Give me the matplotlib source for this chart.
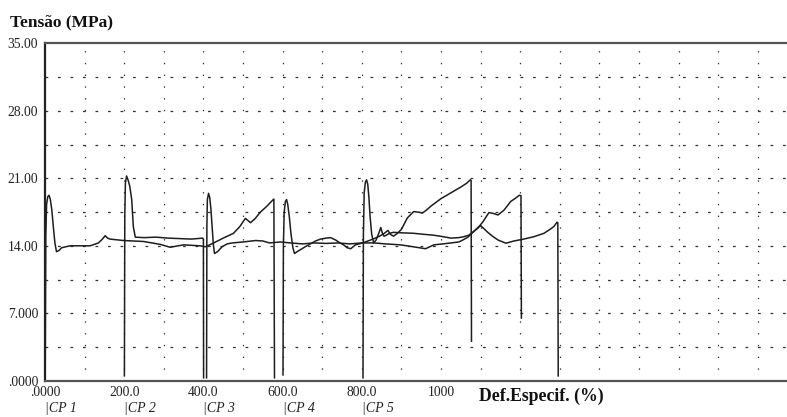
import matplotlib
matplotlib.use("Agg")
import matplotlib.pyplot as plt
from matplotlib.transforms import blended_transform_factory

# stress-strain curves of the five specimens, as drawn on the shared axis
cp1_x = [0.5, 2, 4, 7, 10, 13, 17, 21, 25, 29, 35, 42, 63, 90, 114, 135, 145, 152, 158, 164,
         198, 249, 291, 316, 350, 392, 405, 426, 450, 476, 492, 506, 519, 530, 544, 560, 574,
         578, 579.5]
cp1_y = [0.3, 15, 18.3, 19.1, 19.25, 18.9, 17.8, 16.0, 14.3, 13.4, 13.5, 13.8, 14.0, 14.0, 14.0,
         14.3, 14.7, 15.05, 14.8, 14.7, 14.55, 14.45, 14.15, 13.85, 14.1, 14.0, 13.9, 14.3, 14.8,
         15.3, 16.0, 16.85, 16.4, 16.8, 17.5, 18.1, 18.7, 18.85, 0.3]

cp2_x = [200.5, 201.5, 203, 206, 210, 214, 219, 223, 228, 250, 280, 310, 340, 370, 398, 400,
         400.5]
cp2_y = [0.5, 17, 20.5, 21.25, 20.8, 20.2, 18.8, 16.0, 14.9, 14.85, 14.9, 14.8, 14.75, 14.7,
         14.8, 14.7, 0.3]

cp3_x = [408, 408.8, 410, 413, 416, 419, 422, 425, 428, 436, 447, 460, 473, 500, 532, 550, 567,
         594, 620, 650, 680, 710, 740, 770, 800, 830, 860, 898, 930, 961, 982, 1005, 1025, 1045,
         1055, 1068, 1078, 1088, 1096, 1106, 1121, 1133, 1144, 1159, 1176, 1190, 1198, 1202, 1203]
cp3_y = [0.3, 16, 18.8, 19.45, 19.0, 17.8, 16.0, 14.2, 13.2, 13.4, 13.9, 14.2, 14.3, 14.4, 14.55,
         14.5, 14.3, 14.4, 14.3, 14.2, 14.3, 14.25, 14.3, 14.2, 14.3, 14.3, 14.2, 14.1, 13.9,
         13.7, 14.1, 14.2, 14.3, 14.4, 14.6, 14.9, 15.3, 15.7, 16.0, 16.5, 17.45, 17.35, 17.2,
         17.7, 18.6, 19.0, 19.25, 19.2, 6.5]

cp4_x = [601, 602, 604, 607, 610, 613, 617, 621, 626, 630, 637, 645, 657, 670, 683, 696, 710,
         721, 734, 745, 754, 763, 772, 778, 784, 793, 802, 812, 822, 834, 845, 857, 866, 872,
         880, 890, 900, 915, 931, 942, 953, 963, 974, 1000, 1025, 1050, 1065, 1074, 1076, 1077]
cp4_y = [0.6, 14, 17.5, 18.6, 18.8, 18.3, 17.0, 15.3, 13.8, 13.2, 13.4, 13.6, 13.9, 14.2, 14.5,
         14.7, 14.8, 14.85, 14.6, 14.3, 14.1, 13.8, 13.7, 13.9, 14.1, 14.2, 14.3, 14.45, 14.6,
         14.8, 15.0, 15.3, 15.6, 15.2, 15.0, 15.3, 15.7, 16.9, 17.55, 17.5, 17.4, 17.7, 18.1,
         18.9, 19.5, 20.1, 20.5, 20.85, 20.8, 4.1]

cp5_x = [803, 804, 806, 809, 812, 815, 818, 821, 825, 830, 836, 842, 848, 852, 856, 862, 870,
         880, 900, 931, 955, 982, 1005, 1025, 1045, 1058, 1070, 1083, 1092, 1100, 1108, 1118,
         1130, 1144, 1164, 1184, 1209, 1235, 1260, 1275, 1285, 1293, 1295, 1296]
cp5_y = [0.3, 15, 19.5, 20.6, 20.85, 20.4, 19.0, 17.0, 15.2, 14.3, 14.6, 15.2, 15.9, 15.3, 15.0,
         15.1, 15.3, 15.4, 15.35, 15.3, 15.2, 15.1, 14.95, 14.8, 14.85, 14.95, 15.1, 15.5, 15.8,
         16.1, 15.8, 15.4, 15.0, 14.6, 14.27, 14.5, 14.7, 14.95, 15.3, 15.7, 16.0, 16.45, 16.4,
         0.5]

y_ticks = [0, 7, 14, 21, 28, 35]
y_labels = [".0000", "7.000", "14.00", "21.00", "28.00", "35.00"]
x_ticks = [0, 200, 400, 600, 800, 1000]
x_labels = [".0000", "200.0", "400.0", "600.0", "800.0", "1000"]
cp_names = ["CP 1", "CP 2", "CP 3", "CP 4", "CP 5"]
cp_starts = [0, 200, 400, 600, 800]

plt.rcParams['font.family'] = ['Liberation Serif', 'DejaVu Serif']

fig = plt.figure(figsize=(7.87, 4.17), dpi=100)
ax = fig.add_axes([45 / 787, 1 - 380.7 / 417, 742 / 787, 337.2 / 417])
ax.set_xlim(0, 742 / 0.396)
ax.set_ylim(0, 35)

# grid: dashed horizontals every 3.5 MPa, dotted verticals every 100 %
for k in range(1, 10):
    ax.axhline(3.5 * k, color='#333333', lw=0.9, ls=(0, (2.2, 7.8)), zorder=1)
for k in range(1, 19):
    ax.axvline(100 * k, color='#333333', lw=0.9, ls=(0, (1.1, 8.3)), zorder=1)

for xs, ys in [(cp1_x, cp1_y), (cp2_x, cp2_y), (cp3_x, cp3_y), (cp4_x, cp4_y), (cp5_x, cp5_y)]:
    ax.plot(xs, ys, color='#1e1e1e', lw=1.1, zorder=3)

ax.spines['right'].set_visible(False)
ax.spines['left'].set_linewidth(1.6)
ax.spines['left'].set_color('#222222')
for s in ['top', 'bottom']:
    ax.spines[s].set_linewidth(1.6)
    ax.spines[s].set_color('#555555')

ax.set_yticks(y_ticks)
ax.set_yticklabels(y_labels)
ax.set_xticks(x_ticks)
ax.set_xticklabels(x_labels)
ax.tick_params(length=0, labelsize=9.8, labelcolor='#222222')
ax.tick_params(axis='y', pad=5)
ax.tick_params(axis='x', pad=4)

trans = blended_transform_factory(ax.transData, ax.transAxes)
for name, x0 in zip(cp_names, cp_starts):
    ax.text(x0, -0.083, "|" + name, transform=trans, fontsize=10, style='italic',
            ha='left', va='center', color='#222222')

ax.text(1095, -0.045, "Def.Especif. (%)", transform=trans, fontsize=12.8, fontweight='bold',
        ha='left', va='center', color='#111111')
fig.text(10 / 787, 1 - 22 / 417, "Tensão (MPa)", fontsize=12.5, fontweight='bold',
         ha='left', va='center', color='#111111')

fig.savefig("out.png", dpi=100)
